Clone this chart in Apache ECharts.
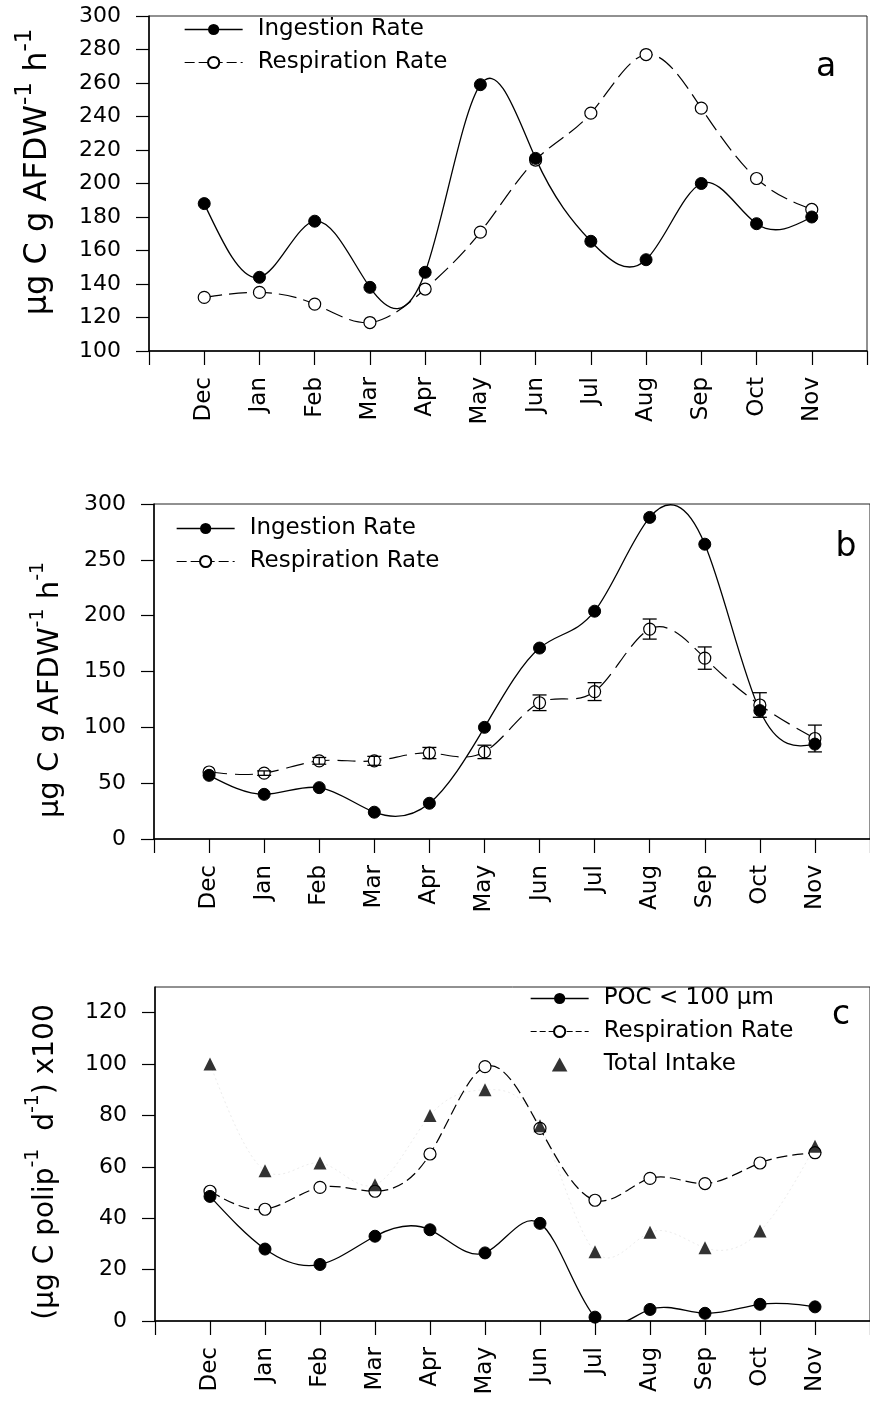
<!DOCTYPE html>
<html><head><meta charset="utf-8">
<script src="https://cdn.jsdelivr.net/npm/echarts@6/dist/echarts.min.js"></script>
<style>html,body{margin:0;padding:0;background:#fff}#c{width:870px;height:1401px}</style>
</head><body><div id="c"></div>
<script>
const months = ['Dec','Jan','Feb','Mar','Apr','May','Jun','Jul','Aug','Sep','Oct','Nov'];
const aIngestion = [188,144,177.5,138,147,259,215,165.5,154.5,200,176,180];
const aRespiration = [132,135,128,117,137,171,214,242,277,245,203,184.5];
const bIngestion = [57,40,46,24,32,100,171,204,288,264,115,85];
const bRespiration = [60,59,70,70,77,78,122,132,188,162,120,90];
const bRespError = [0,2,3,4,5,6,7,8,9,10,11,12];
const cPOC = [48.5,28,22,33,35.5,26.5,38,1.5,4.5,3,6.5,5.5];
const cRespiration = [50.5,43.5,52,50.5,65,99,75,47,55.5,53.5,61.5,65.5];
const cTotalIntake = [100,58.5,61.5,53,80,90,76,27,34.5,28.5,35,68];

const FONT = "'DejaVu Sans', Verdana, sans-serif";
const pts = arr => arr.map((v, i) => [i, v]);

const chart = echarts.init(document.getElementById('c'), null, {renderer: 'canvas'});

function xAx(gi) {
  return {
    gridIndex: gi, type: 'value', min: -1, max: 12, interval: 1,
    axisLine: {show: true, onZero: false, lineStyle: {color: '#000', width: 1.5}},
    axisTick: {show: true, length: 14, lineStyle: {color: '#000', width: 1.2}},
    axisLabel: {rotate: 90, margin: 26, fontSize: 23, color: '#000', fontFamily: FONT,
      formatter: v => months[v] || ''},
    splitLine: {show: false}
  };
}
function yAx(gi, min, max, interval) {
  return {
    gridIndex: gi, type: 'value', min: min, max: max, interval: interval,
    axisLine: {show: true, onZero: false, lineStyle: {color: '#000', width: 1.5}},
    axisTick: {show: true, length: 13, lineStyle: {color: '#000', width: 1.2}},
    axisLabel: {margin: 28, fontSize: 22, color: '#000', fontFamily: FONT, showMaxLabel: max % interval === 0},
    splitLine: {show: false}
  };
}

// natural cubic spline drawn in pixel space through the library-mapped data points
function splinePathData(P) {
  const n = P.length;
  if (n < 2) return '';
  const h = [];
  for (let i = 0; i < n - 1; i++) h[i] = P[i + 1][0] - P[i][0];
  const a = [], b = [], c = [], d = [];
  for (let i = 0; i < n; i++) {
    if (i === 0 || i === n - 1) { a[i] = 0; b[i] = 1; c[i] = 0; d[i] = 0; }
    else {
      a[i] = h[i - 1]; b[i] = 2 * (h[i - 1] + h[i]); c[i] = h[i];
      d[i] = 6 * ((P[i + 1][1] - P[i][1]) / h[i] - (P[i][1] - P[i - 1][1]) / h[i - 1]);
    }
  }
  for (let i = 1; i < n; i++) {
    const m = a[i] / b[i - 1];
    b[i] -= m * c[i - 1];
    d[i] -= m * d[i - 1];
  }
  const M = new Array(n);
  M[n - 1] = d[n - 1] / b[n - 1];
  for (let i = n - 2; i >= 0; i--) M[i] = (d[i] - c[i] * M[i + 1]) / b[i];
  let s = 'M' + P[0][0] + ',' + P[0][1];
  for (let i = 0; i < n - 1; i++) {
    const hh = h[i], y0 = P[i][1], y1 = P[i + 1][1];
    const sl = (y1 - y0) / hh;
    const d0 = sl - hh * (2 * M[i] + M[i + 1]) / 6;
    const d1 = sl + hh * (M[i] + 2 * M[i + 1]) / 6;
    s += 'C' + (P[i][0] + hh / 3) + ',' + (y0 + d0 * hh / 3) + ',' +
         (P[i + 1][0] - hh / 3) + ',' + (y1 - d1 * hh / 3) + ',' + P[i + 1][0] + ',' + y1;
  }
  return s;
}
const spline = (data, xi, color, width, dash, z) => ({
  type: 'custom', xAxisIndex: xi, yAxisIndex: xi, silent: true, z, clip: true,
  data: pts(data),
  renderItem: (params, api) => {
    if (params.dataIndexInside !== 0) return null;
    const P = [];
    for (let j = 0; j < params.dataInsideLength; j++) P.push(api.coord([api.value(0, j), api.value(1, j)]));
    return {type: 'path', shape: {pathData: splinePathData(P)},
      style: {fill: 'none', stroke: color, lineWidth: width, lineDash: dash}};
  }
});
const filled = (name, data, xi) => ({
  name, type: 'line', xAxisIndex: xi, yAxisIndex: xi, data: pts(data),
  symbol: 'circle', symbolSize: 12, z: 4,
  itemStyle: {color: '#000', borderColor: '#000'},
  lineStyle: {color: '#000', width: 1.3, opacity: 0}
});
const open = (name, data, xi) => ({
  name, type: 'line', xAxisIndex: xi, yAxisIndex: xi, data: pts(data),
  symbol: 'circle', symbolSize: 12, z: 3,
  itemStyle: {color: '#fff', borderColor: '#000', borderWidth: 1.2},
  lineStyle: {color: '#000', width: 1.2, opacity: 0}
});
const solidItem = name => ({name, lineStyle: {opacity: 1, color: '#000', width: 1.3, type: 'solid'}});
const dashItem = (name, dash) => ({name, lineStyle: {opacity: 1, color: '#000', width: 1.2, type: dash}});
const legendBase = (left, top, items) => ({
  left, top, orient: 'vertical', itemWidth: 58, itemHeight: 14, itemGap: 10, padding: 0,
  data: items, symbolKeepAspect: true,
  textStyle: {fontSize: 23, color: '#000', fontFamily: FONT, padding: [0, 0, 0, 10]},
  selectedMode: false
});
const title = (x, y, text, size, supSize) => ({
  type: 'text', x, y, rotation: Math.PI / 2,
  style: {
    text, align: 'center', verticalAlign: 'middle',
    rich: {
      m: {fontSize: size, fontFamily: FONT, fill: '#000', lineHeight: size, verticalAlign: 'bottom'},
      s: {fontSize: supSize, fontFamily: FONT, fill: '#000', lineHeight: supSize, padding: [0, 0, 17, 0], verticalAlign: 'bottom'}
    }
  }
});
const letter = (x, y, t) => ({
  type: 'text', x, y, style: {text: t, fontSize: 33, fontFamily: FONT, fill: '#000', align: 'center', verticalAlign: 'middle'}
});

const option = {
  animation: false,
  backgroundColor: '#fff',
  textStyle: {fontFamily: FONT, color: '#000'},
  grid: [
    {left: 149, top: 16, width: 718, height: 335, show: true, borderColor: '#222', borderWidth: 1},
    {left: 154, top: 504, width: 720, height: 335, show: true, borderColor: '#222', borderWidth: 1},
    {left: 155, top: 987, width: 723, height: 334, show: true, borderColor: '#222', borderWidth: 1}
  ],
  xAxis: [xAx(0), xAx(1), xAx(2)],
  yAxis: [yAx(0, 100, 300, 20), yAx(1, 0, 300, 50), yAx(2, 0, 130, 20)],
  legend: [
    legendBase(184, 18, [solidItem('Ingestion Rate'), dashItem('Respiration Rate', [10, 4])]),
    legendBase(176, 517, [solidItem('Ingestion Rate'), dashItem('Respiration Rate', [10, 4])]),
    legendBase(530, 987, [solidItem('POC < 100 µm'), dashItem('Respiration Rate', [6, 3]),
      {name: 'Total Intake', icon: 'path://M5,0 L10,9 L0,9 Z'}])
  ],
  series: [
    spline(aRespiration, 0, '#000', 1.2, [18, 7], 2),
    spline(aIngestion, 0, '#000', 1.3, null, 2),
    open('Respiration Rate', aRespiration, 0),
    filled('Ingestion Rate', aIngestion, 0),

    spline(bRespiration, 1, '#000', 1.2, [18, 8], 2),
    spline(bIngestion, 1, '#000', 1.3, null, 2),
    open('Respiration Rate', bRespiration, 1),
    filled('Ingestion Rate', bIngestion, 1),
    {
      type: 'custom', xAxisIndex: 1, yAxisIndex: 1, z: 6, silent: true,
      data: bRespiration.map((v, i) => [i, v - bRespError[i], v + bRespError[i]]),
      renderItem: (params, api) => {
        const lo = api.coord([api.value(0), api.value(1)]);
        const hi = api.coord([api.value(0), api.value(2)]);
        if (Math.abs(lo[1] - hi[1]) < 1) return null;
        const w = 7, st = {stroke: '#000', lineWidth: 1.3};
        return {type: 'group', children: [
          {type: 'line', shape: {x1: lo[0], y1: lo[1], x2: hi[0], y2: hi[1]}, style: st},
          {type: 'line', shape: {x1: lo[0] - w, y1: lo[1], x2: lo[0] + w, y2: lo[1]}, style: st},
          {type: 'line', shape: {x1: hi[0] - w, y1: hi[1], x2: hi[0] + w, y2: hi[1]}, style: st}
        ]};
      }
    },

    spline(cTotalIntake, 2, '#ececec', 1, [2, 3], 1),
    spline(cRespiration, 2, '#000', 1.2, [11, 5], 2),
    spline(cPOC, 2, '#000', 1.3, null, 2),
    open('Respiration Rate', cRespiration, 2),
    filled('POC < 100 µm', cPOC, 2),
    {
      name: 'Total Intake', type: 'scatter', xAxisIndex: 2, yAxisIndex: 2, data: pts(cTotalIntake),
      symbol: 'triangle', symbolSize: 13, z: 5, itemStyle: {color: '#000'}
    }
  ],
  graphic: [
    title(38, 172, '{m|µg C g AFDW}{s|-1}{m| h}{s|-1}', 32, 23),
    title(50, 690, '{m|µg C g AFDW}{s|-1}{m| h}{s|-1}', 29, 19),
    title(46, 1162, '{m|(µg C polip}{s|-1}{m|  d}{s|-1}{m|) x100}', 28, 19),
    letter(826, 67, 'a'),
    letter(846, 547, 'b'),
    letter(841, 1015, 'c')
  ]
};
chart.setOption(option);
</script></body></html>
